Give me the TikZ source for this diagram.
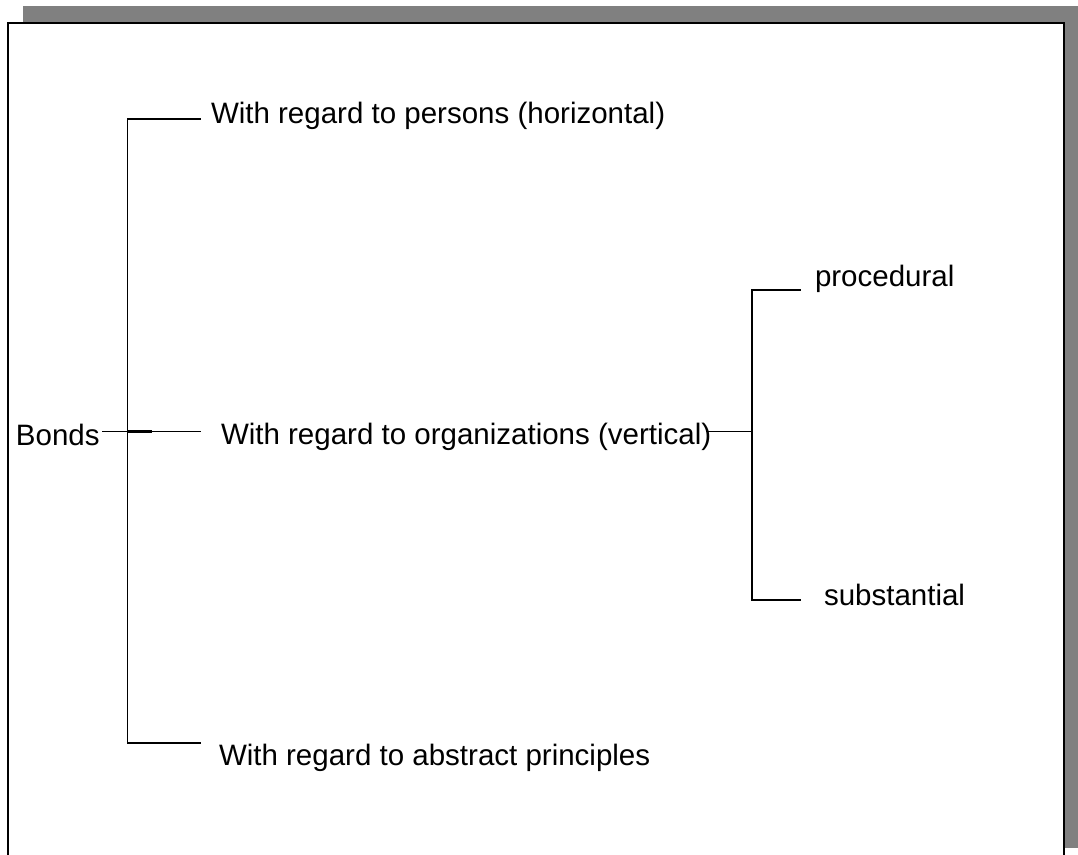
\documentclass[tikz,border=0pt]{standalone}
\usepackage{fontspec}
\setmainfont{Liberation Sans}
\begin{document}
\begin{tikzpicture}[x=1pt,y=-1pt,
  lbl/.style={anchor=base west,inner sep=0pt,outer sep=0pt,font=\fontsize{29.5}{34}\selectfont},
  conn/.style={line width=1.8pt,line cap=rect},
  framebox/.style={line width=2pt,draw=black,fill=white}]
\useasboundingbox (0,0) rectangle (1078,854);
\clip (0,0) rectangle (1078,854);
% frame with shadow
\fill[black!50] (23,6) rectangle (1078,848);
\draw[framebox] (7.5,23) rectangle (1064,880);
% labels
\node[lbl] (bonds) at (16,445) {Bonds};
\node[lbl] (persons) at (211,123) {With regard to persons (horizontal)};
\node[lbl] (orgs) at (221,444) {With regard to organizations (vertical)};
\node[lbl] (abstract) at (219,765) {With regard to abstract principles};
\node[lbl] (proc) at (815,286) {procedural};
\node[lbl] (subst) at (824,605) {substantial};
% junction coordinates
\coordinate (jtop) at (127.5,119);
\coordinate (jmid) at (127.5,431.5);
\coordinate (jbot) at (127.5,743);
\coordinate (etop) at (200,119);
\coordinate (emid) at (200,431.5);
\coordinate (ebot) at (200,743);
\coordinate (bstart) at (103,431.5);
\coordinate (bthick) at (152,431.5);
\coordinate (ostart) at (707,431.5);
\coordinate (rmid) at (752,431.5);
\coordinate (rtop) at (752,290);
\coordinate (rbot) at (752,600);
\coordinate (ptop) at (800,290);
\coordinate (pbot) at (800,600);
% connectors
\draw[conn] (etop) -- (jtop) -- (jbot) -- (ebot);
\draw[conn] (bstart) -- (emid);
\draw[line width=2.8pt] (jmid) -- (bthick);
\draw[conn] (ostart) -- (rmid);
\draw[conn] (ptop) -- (rtop) -- (rbot) -- (pbot);
\end{tikzpicture}
\end{document}
